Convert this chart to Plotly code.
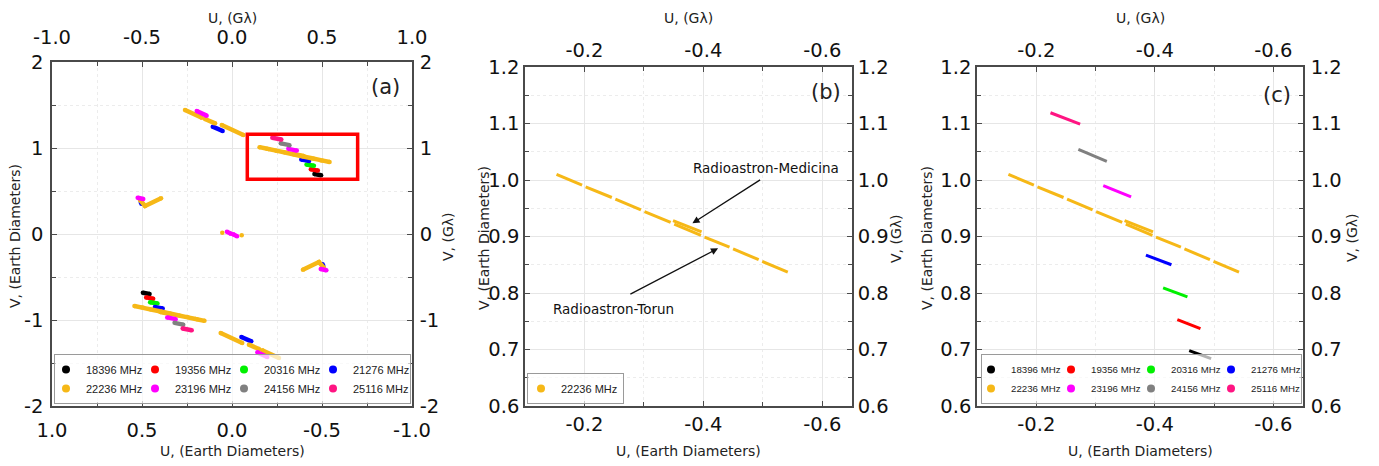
import plotly.graph_objects as go

W, H = 1379, 466

LABELS = ["18396 MHz", "19356 MHz", "20316 MHz", "21276 MHz",
          "22236 MHz", "23196 MHz", "24156 MHz", "25116 MHz"]
COLORS = ["#000000", "#ff0000", "#00f000", "#0000ff",
          "#f6b817", "#ff00ff", "#808080", "#ff1482"]

# ---- zoomed region (panels b and c): U, V in Earth diameters, None separates scans
u_18396 = [-0.458, -0.495]
v_18396 = [0.698, 0.684]
u_19356 = [-0.438, -0.477]
v_19356 = [0.753, 0.737]
u_20316 = [-0.414, -0.455]
v_20316 = [0.809, 0.793]
u_21276 = [-0.385, -0.428]
v_21276 = [0.867, 0.850]
u_22236 = [-0.153, -0.196, None, -0.202, -0.246, None, -0.252, -0.295, None,
           -0.301, -0.345, None, -0.351, -0.396, None, -0.402, -0.444, None,
           -0.450, -0.493, None, -0.499, -0.542, None, -0.349, -0.397]
v_22236 = [1.010, 0.991, None, 0.988, 0.969, None, 0.966, 0.947, None,
           0.944, 0.925, None, 0.922, 0.902, None, 0.899, 0.881, None,
           0.878, 0.859, None, 0.856, 0.837, None, 0.928, 0.908]
u_23196 = [-0.313, -0.360]
v_23196 = [0.990, 0.970]
u_24156 = [-0.271, -0.319]
v_24156 = [1.054, 1.033]
u_25116 = [-0.224, -0.274]
v_25116 = [1.119, 1.099]

# ---- other parts of the (u,v) coverage in panel (a) (one half; conjugate half is -u,-v)
ua_21276 = [0.107, 0.052, None, 0.507, 0.503]
va_21276 = [1.248, 1.198, None, 0.372, 0.352]
ua_22236 = [0.261, 0.168, None, 0.150, 0.094, None, 0.057, -0.063, None,
            0.511, 0.483, 0.394, None, 0.054]
va_22236 = [1.442, 1.353, None, 1.337, 1.287, None, 1.267, 1.151, None,
            0.395, 0.326, 0.415, None, 0.015]
ua_23196 = [0.196, 0.141, None, 0.524, 0.493, None, 0.028, 0.006]
va_23196 = [1.430, 1.376, None, 0.422, 0.407, None, 0.026, 0.004]

ZOOM_U = [u_18396, u_19356, u_20316, u_21276, u_22236, u_23196, u_24156, u_25116]
ZOOM_V = [v_18396, v_19356, v_20316, v_21276, v_22236, v_23196, v_24156, v_25116]
EXTRA_U = [[], [], [], ua_21276, ua_22236, ua_23196, [], []]
EXTRA_V = [[], [], [], va_21276, va_22236, va_23196, [], []]

# ---- tick labels
A_X_TICKS = [1.0, 0.5, 0.0, -0.5, -1.0]
A_X_TEXT = ["1.0", "0.5", "0.0", "-0.5", "-1.0"]
A_XTOP_TICKS = [-1.0, -0.5, 0.0, 0.5, 1.0]
A_XTOP_TEXT = ["-1.0", "-0.5", "0.0", "0.5", "1.0"]
A_Y_TICKS = [-2, -1, 0, 1, 2]
A_Y_TEXT = ["-2", "-1", "0", "1", "2"]
BC_X_TICKS = [-0.2, -0.4, -0.6]
BC_X_TEXT = ["-0.2", "-0.4", "-0.6"]
BC_Y_TICKS = [0.6, 0.7, 0.8, 0.9, 1.0, 1.1, 1.2]
BC_Y_TEXT = ["0.6", "0.7", "0.8", "0.9", "1.0", "1.1", "1.2"]


def conj(vals):
    return [None if v is None else -v for v in vals]


def join(*parts):
    out = []
    for p in parts:
        if not p:
            continue
        if out:
            out.append(None)
        out.extend(p)
    return out


fig = go.Figure()

# panel (a): full coverage
for i, lab in enumerate(LABELS):
    ux = join(ZOOM_U[i], conj(ZOOM_U[i]), EXTRA_U[i], conj(EXTRA_U[i]))
    vy = join(ZOOM_V[i], conj(ZOOM_V[i]), EXTRA_V[i], conj(EXTRA_V[i]))
    fig.add_trace(go.Scatter(x=ux, y=vy, mode="lines+markers", name=lab,
                             line=dict(color=COLORS[i], width=4.5),
                             marker=dict(color=COLORS[i], size=4.5),
                             xaxis="x", yaxis="y", showlegend=False,
                             hoverinfo="skip"))
# panel (b): 22236 MHz only
fig.add_trace(go.Scatter(x=u_22236, y=v_22236, mode="lines", name="22236 MHz",
                         line=dict(color=COLORS[4], width=3),
                         xaxis="x2", yaxis="y2", showlegend=False, hoverinfo="skip"))
# panel (c): all frequencies
for i, lab in enumerate(LABELS):
    fig.add_trace(go.Scatter(x=ZOOM_U[i], y=ZOOM_V[i], mode="lines", name=lab,
                             line=dict(color=COLORS[i], width=3),
                             xaxis="x3", yaxis="y3", showlegend=False,
                             hoverinfo="skip"))

# legend entries (dot symbols), 2 rows x 4 columns via groups;
# attached to the secondary (top/right) axes so that those axes are drawn
ORDER = [0, 4, 1, 5, 2, 6, 3, 7]
for leg, xa, ya, pre in (("legend", "x4", "y4", "a"), ("legend3", "x6", "y6", "c")):
    for k in ORDER:
        fig.add_trace(go.Scatter(x=[None], y=[None], mode="markers", name=LABELS[k],
                                 marker=dict(color=COLORS[k], size=8),
                                 legend=leg, legendgroup=pre + str(k % 4),
                                 xaxis=xa, yaxis=ya, showlegend=True, hoverinfo="skip"))
fig.add_trace(go.Scatter(x=[None], y=[None], mode="markers", name=LABELS[4],
                         marker=dict(color=COLORS[4], size=8),
                         legend="legend2", xaxis="x5", yaxis="y5", showlegend=True,
                         hoverinfo="skip"))

LINE = "#4a4a4a"
TICKFONT = dict(family="DejaVu Sans", size=19.5, color="#111111")


def axis(main, tickvals, ticktext, minorvals, **kw):
    d = dict(showline=True, linecolor=LINE, linewidth=1.5, ticks="inside",
             ticklen=5, tickwidth=1.2, tickcolor=LINE, tickfont=TICKFONT,
             zeroline=False, automargin=False, fixedrange=True,
             tickmode="array", tickvals=tickvals, ticktext=ticktext,
             showgrid=main, gridcolor="#e6e6e6", gridwidth=1,
             minor=dict(tickmode="array", tickvals=minorvals, ticks="inside",
                        ticklen=4, tickcolor=LINE, tickwidth=1.2,
                        showgrid=main, gridcolor="#ececec", griddash="dot"))
    d.update(kw)
    return d


ya_dom = [1 - 406 / H, 1 - 62 / H]
ybc_dom = [1 - 406 / H, 1 - 67 / H]
A_XMIN = [0.75, 0.25, -0.25, -0.75]
A_YMIN = [-1.5, -0.5, 0.5, 1.5]
BC_XMIN = [-0.1, -0.3, -0.5]
BC_YMIN = [0.65, 0.75, 0.85, 0.95, 1.05, 1.15]

fig.update_layout(
    xaxis=axis(True, A_X_TICKS, A_X_TEXT, A_XMIN, domain=[52 / W, 412 / W], anchor="y",
               range=[1, -1], ticklabelstandoff=6),
    yaxis=axis(True, A_Y_TICKS, A_Y_TEXT, A_YMIN, domain=ya_dom, anchor="x", range=[-2, 2],
               ticklabelstandoff=3),
    xaxis4=axis(False, A_XTOP_TICKS, A_XTOP_TEXT, A_XMIN, overlaying="x", side="top",
                anchor="y", range=[-1, 1], ticklabelstandoff=8),
    yaxis4=axis(False, A_Y_TICKS, A_Y_TEXT, A_YMIN, overlaying="y", side="right",
                anchor="x", range=[-2, 2], ticklabelstandoff=2),
    xaxis2=axis(True, BC_X_TICKS, BC_X_TEXT, BC_XMIN, domain=[525 / W, 852 / W],
                anchor="y2", range=[-0.1, -0.65]),
    yaxis2=axis(True, BC_Y_TICKS, BC_Y_TEXT, BC_YMIN, domain=ybc_dom, anchor="x2",
                range=[0.6, 1.2]),
    xaxis5=axis(False, BC_X_TICKS, BC_X_TEXT, BC_XMIN, overlaying="x2", side="top",
                anchor="y2", range=[-0.1, -0.65]),
    yaxis5=axis(False, BC_Y_TICKS, BC_Y_TEXT, BC_YMIN, overlaying="y2", side="right",
                anchor="x2", range=[0.6, 1.2]),
    xaxis3=axis(True, BC_X_TICKS, BC_X_TEXT, BC_XMIN, domain=[977 / W, 1303 / W],
                anchor="y3", range=[-0.1, -0.65]),
    yaxis3=axis(True, BC_Y_TICKS, BC_Y_TEXT, BC_YMIN, domain=ybc_dom, anchor="x3",
                range=[0.6, 1.2]),
    xaxis6=axis(False, BC_X_TICKS, BC_X_TEXT, BC_XMIN, overlaying="x3", side="top",
                anchor="y3", range=[-0.1, -0.65]),
    yaxis6=axis(False, BC_Y_TICKS, BC_Y_TEXT, BC_YMIN, overlaying="y3", side="right",
                anchor="x3", range=[0.6, 1.2], ticklabelstandoff=2),
)

LEGBASE = dict(orientation="h", traceorder="grouped", tracegroupgap=0,
               bgcolor="rgba(255,255,255,0.7)", bordercolor="#9a9a9a", borderwidth=1,
               xanchor="left", yanchor="bottom", itemclick=False, itemdoubleclick=False)
fig.update_layout(
    legend=dict(LEGBASE, x=54 / W, y=1 - 404 / H, entrywidth=52, indentation=-8,
                font=dict(family="Liberation Sans", size=11, color="#222")),
    legend2=dict(LEGBASE, x=527 / W, y=1 - 404 / H, indentation=-6,
                 font=dict(family="Liberation Sans", size=11, color="#222")),
    legend3=dict(LEGBASE, x=981 / W, y=1 - 404 / H, entrywidth=45, indentation=-10,
                 font=dict(family="Liberation Sans", size=9.7, color="#222")),
)

# red box marking the zoomed region in panel (a)
fig.add_shape(type="rect", xref="x", yref="y", x0=-0.085, x1=-0.698, y0=0.636, y1=1.159,
              line=dict(color="#ff0000", width=3.5))

TITLE_FONT = dict(family="DejaVu Sans", size=14, color="#222222")


def ptext(txt, px, py, size=14, angle=0):
    fig.add_annotation(text=txt, xref="paper", yref="paper", x=px / W, y=1 - py / H,
                       xanchor="center", yanchor="middle", showarrow=False,
                       textangle=angle, font=dict(TITLE_FONT, size=size))


for cx, lx, rx, cy in ((232, 15, 448, 236), (688, 484, 896, 238), (1140, 927, 1352, 238)):
    ptext("U, (G\u03bb)", cx, 18)
    ptext("U, (Earth Diameters)", cx, 451)
    ptext("V, (Earth Diameters)", lx, cy, angle=-90)
    ptext("V, (G\u03bb)", rx, cy, angle=-90)

ptext("(a)", 385, 87, size=21)
ptext("(b)", 826, 92, size=21)
ptext("(c)", 1277, 95, size=21)

# arrows in panel (b)
for hx, hy, tx, ty in ((-0.3816, 0.9234, -0.498, 1.002), (-0.4248, 0.879, -0.2747, 0.7965)):
    fig.add_annotation(x=hx, y=hy, ax=tx, ay=ty, xref="x2", yref="y2", axref="x2",
                       ayref="y2", text="", showarrow=True, arrowhead=2, arrowsize=1.1,
                       arrowwidth=1.3, arrowcolor="#111111", standoff=0, startstandoff=0)
fig.add_annotation(x=-0.506, y=1.021, xref="x2", yref="y2", text="Radioastron-Medicina",
                   showarrow=False, font=dict(family="DejaVu Sans", size=13.5, color="#111"))
fig.add_annotation(x=-0.2488, y=0.7717, xref="x2", yref="y2", text="Radioastron-Torun",
                   showarrow=False, font=dict(family="DejaVu Sans", size=13.5, color="#111"))

fig.update_layout(width=W, height=H, margin=dict(l=0, r=0, t=0, b=0),
                  paper_bgcolor="white", plot_bgcolor="white")

fig.write_html("out.html")
